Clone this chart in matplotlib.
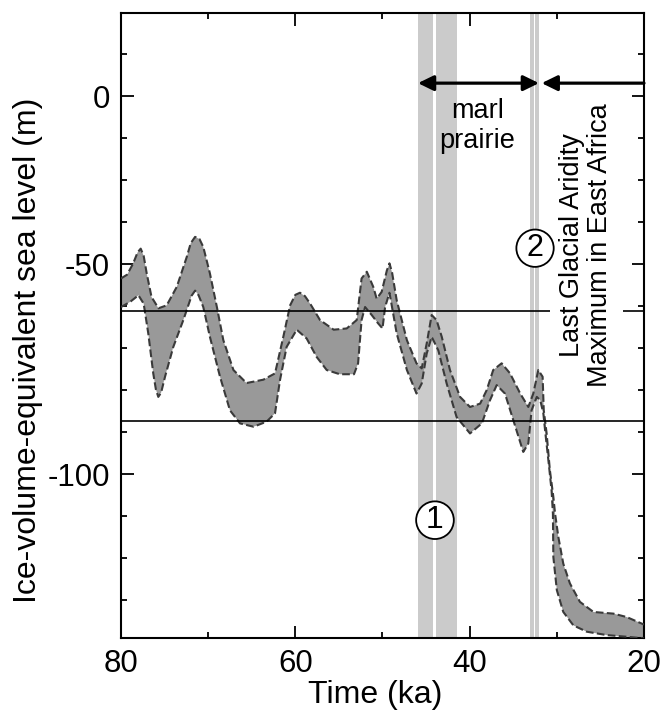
import numpy as np
import matplotlib.pyplot as plt
from matplotlib.ticker import FixedLocator, FixedFormatter

plt.rcParams['font.family'] = ['Liberation Sans', 'DejaVu Sans']

# upper edge of the sea-level band (age in ka, level in m)
upper_age = [80.0, 79.3, 78.6, 78.1, 77.74, 77.4, 77.05, 76.5, 75.7, 74.76,
             73.6, 72.46, 72.0, 71.5, 71.0, 70.56, 69.8, 69.0, 68.26, 67.1,
             65.6, 63.67, 62.33, 61.38, 60.6, 60.0, 59.47, 58.9, 58.3, 57.17,
             55.6, 54.1, 52.96, 52.4, 51.8, 51.06, 50.67, 50.1, 49.5, 49.2,
             48.9, 48.37, 47.2, 46.1, 45.5, 44.93, 44.36, 43.8, 43.2, 42.26,
             41.1, 39.96, 38.8, 38.05, 37.3, 36.33, 35.37, 34.2, 33.27, 32.7,
             32.13, 31.63, 31.5, 31.17, 30.8, 30.4, 30.2, 29.83, 29.26, 28.5,
             27.35, 25.8, 23.5, 22.0, 20.0]
upper_sl = [-53.4, -52.5, -49.8, -47.2, -46.3, -48.0, -52.2, -57.8, -60.5, -59.8,
            -55.4, -48.3, -45.0, -43.5, -44.0, -45.9, -52.2, -60.2, -68.1, -75.2,
            -78.3, -77.5, -76.0, -67.3, -59.8, -57.3, -56.8, -57.6, -59.4, -63.3,
            -65.6, -65.3, -63.3, -53.4, -51.8, -55.4, -58.2, -56.6, -51.5, -49.8,
            -52.0, -58.6, -68.1, -73.6, -74.8, -68.9, -62.1, -63.3, -67.3, -75.2,
            -81.6, -84.0, -83.2, -80.0, -75.2, -73.6, -76.0, -80.8, -84.0, -80.8,
            -75.2, -76.8, -84.8, -90.3, -99.0, -105.4, -109.4, -114.9, -121.3, -126.0,
            -130.4, -132.8, -133.2, -134.0, -135.8]

# lower edge of the sea-level band
lower_age = [80.0, 78.97, 78.0, 77.4, 76.87, 76.3, 76.0, 75.72, 75.4, 74.95,
             74.0, 72.85, 71.9, 71.5, 71.1, 70.56, 69.8, 68.64, 67.5, 66.35,
             64.8, 63.3, 62.33, 61.76, 61.0, 59.84, 58.7, 57.55, 56.4, 54.9,
             53.27, 52.8, 52.4, 52.0, 51.24, 50.5, 50.0, 49.7, 49.2, 48.37,
             47.2, 46.1, 45.5, 44.93, 44.36, 43.6, 42.64, 41.5, 39.96, 38.6,
             37.67, 36.9, 35.95, 35.0, 33.85, 33.27, 32.9, 32.3, 31.9, 31.55,
             31.3, 30.9, 30.6, 30.45, 30.4, 30.0, 29.26, 28.1, 26.57, 24.3,
             22.0, 20.0]
lower_sl = [-60.2, -59.0, -57.4, -59.4, -66.5, -76.0, -79.8, -81.6, -80.6, -76.8,
            -69.7, -63.3, -57.5, -56.3, -57.4, -60.2, -67.3, -76.8, -84.8, -87.9,
            -88.7, -87.5, -85.5, -77.6, -69.7, -65.6, -67.7, -72.1, -75.2, -76.2,
            -76.2, -73.6, -63.3, -60.2, -62.1, -64.1, -65.3, -60.2, -56.8, -66.5,
            -75.2, -80.8, -78.4, -71.3, -67.3, -70.5, -78.4, -86.4, -90.3, -87.9,
            -82.4, -78.8, -80.8, -87.1, -94.7, -92.7, -84.8, -81.6, -82.4, -85.5,
            -90.5, -98.0, -104.0, -109.4, -119.7, -127.6, -132.8, -136.0, -137.5, -138.3,
            -138.7, -139.1]

# grey intervals (ka)
bar_old = [45.95, 43.85, 33.1, 32.45]
bar_young = [44.2, 41.5, 32.6, 32.0]

# horizontal reference levels (m)
ref_levels = [-61.2, -87.4]

x_major = [80, 60, 40, 20]
x_minor = [70, 50, 30]
y_major = [-10, -50, -100]
y_major_labels = ['0', '-50', '-100']
y_minor = [0, -20, -30, -40, -60, -70, -80, -90, -110, -120, -130]

fig = plt.figure(figsize=(6.61, 7.22), dpi=100)
ax = fig.add_axes([121 / 661, 1 - 638 / 722, 523 / 661, 625 / 722])

for a0, a1 in zip(bar_old, bar_young):
    ax.axvspan(a1, a0, color='#cbcbcb', lw=0, zorder=1)

ax.fill(np.r_[upper_age, lower_age[::-1]], np.r_[upper_sl, lower_sl[::-1]],
        color='#999999', lw=0, zorder=2)
ax.plot(upper_age, upper_sl, ls='--', color='#3a3a3a', lw=1.5, zorder=3)
ax.plot(lower_age, lower_sl, ls='--', color='#3a3a3a', lw=1.5, zorder=3)

for lev in ref_levels:
    ax.axhline(lev, color='k', lw=1.2, zorder=3)

# arrows
arrow_y = -6.9
head = '<|-|>,head_length=0.47,head_width=0.23'
ax.annotate('', xy=(45.93, arrow_y), xytext=(32.05, arrow_y),
            arrowprops=dict(arrowstyle=head, mutation_scale=20, lw=2.3,
                            color='k', shrinkA=0, shrinkB=0), zorder=5)
ax.annotate('', xy=(31.74, arrow_y), xytext=(20, arrow_y),
            arrowprops=dict(arrowstyle='-|>,head_length=0.47,head_width=0.23',
                            mutation_scale=20, lw=2.3, color='k',
                            shrinkA=0, shrinkB=0), zorder=5)

ax.text(39.1, -17.1, 'marl\nprairie', ha='center', va='center',
        fontsize=19.5, zorder=5)
ax.text(26.65, -45.5, 'Last Glacial Aridity\nMaximum in East Africa',
        rotation=90, ha='center', va='center', multialignment='center',
        fontsize=19.5, linespacing=1.1, zorder=4,
        bbox=dict(boxstyle='square,pad=0.35', fc='white', ec='none'))

circ = dict(boxstyle='circle,pad=0.12', fc='white', ec='k', lw=1.3)
ax.text(43.98, -110.95, '1', ha='center', va='center', fontsize=23,
        bbox=circ, zorder=5)
ax.text(32.5, -46.2, '2', ha='center', va='center', fontsize=22,
        bbox=circ, zorder=5)

ax.set_xlim(80, 20)
ax.set_ylim(-139, 9.8)
ax.set_xticks(x_major)
ax.set_xticks(x_minor, minor=True)
ax.yaxis.set_major_locator(FixedLocator(y_major))
ax.yaxis.set_major_formatter(FixedFormatter(y_major_labels))
ax.yaxis.set_minor_locator(FixedLocator(y_minor))
ax.tick_params(which='both', direction='in', top=True, right=True,
               labelsize=22.5, width=1.3)
ax.tick_params(which='major', length=9, pad=8)
ax.tick_params(which='minor', length=4)
for s in ax.spines.values():
    s.set_linewidth(1.5)

ax.set_xlabel('Time (ka)', fontsize=23)
ax.set_ylabel('Ice-volume-equivalent sea level (m)', fontsize=23)
ax.xaxis.set_label_coords(0.486, -0.068)
ax.yaxis.set_label_coords(-0.15, 0.46)

fig.savefig('out.png', dpi=100)
